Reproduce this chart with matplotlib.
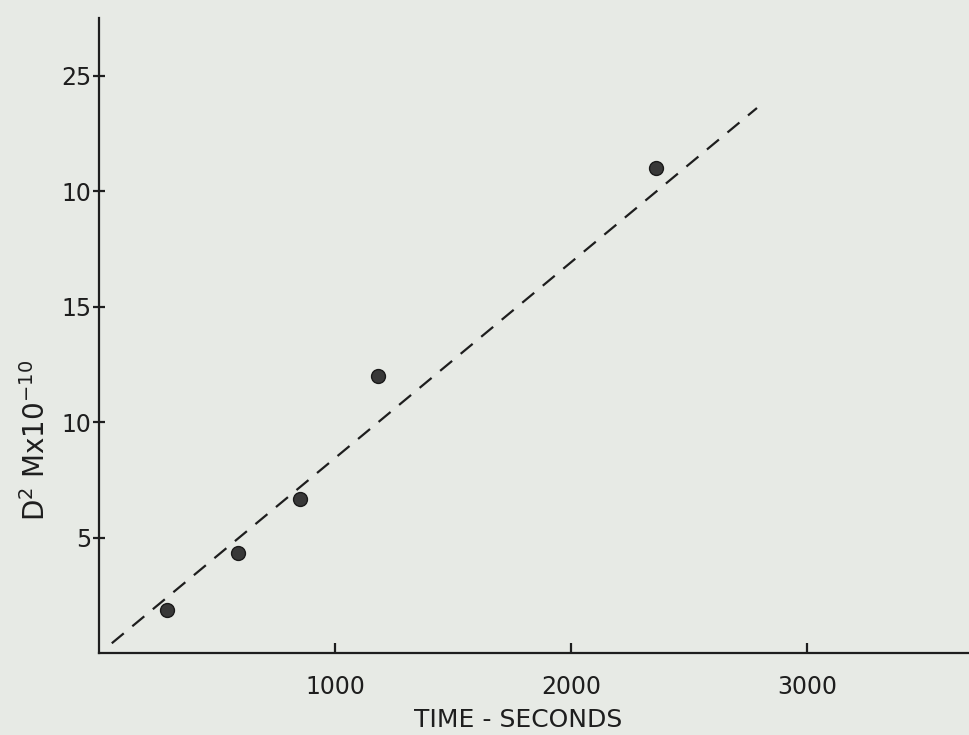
import numpy as np
import matplotlib.pyplot as plt

plt.rcParams['mathtext.default'] = 'regular'

time_s = [287, 588, 852, 1183, 2360]
d2m = [1.86, 4.34, 6.67, 11.99, 20.98]

# dashed fit line end points
fit_t = [54, 2787]
fit_v = [0.42, 23.6]

yticks = [5, 10, 15, 20, 25]
ytick_labels = ['5', '10', '15', '10', '25']   # as printed in the original
xticks = [1000, 2000, 3000]
xtick_labels = ['1000', '2000', '3000']

paper = '#e7eae5'
ink = '#1e1e1e'

fig = plt.figure(figsize=(9.69, 7.35), dpi=100, facecolor=paper)
ax = fig.add_axes([0.1022, 0.1116, 0.898, 0.864], facecolor=paper)

ax.plot(fit_t, fit_v, color=ink, lw=1.6, dashes=(7, 5))
ax.plot(time_s, d2m, 'o', color='#383838', mec='#1a1a1a', ms=10)

ax.set_xlim(0, 3686)
ax.set_ylim(0, 27.5)
ax.set_xticks(xticks)
ax.set_xticklabels(xtick_labels)
ax.set_yticks(yticks)
ax.set_yticklabels(ytick_labels)

for s in ['top', 'right']:
    ax.spines[s].set_visible(False)
for s in ['left', 'bottom']:
    ax.spines[s].set_color(ink)
    ax.spines[s].set_linewidth(1.6)

ax.tick_params(axis='y', direction='inout', length=9, width=1.6, colors=ink,
               labelsize=17, pad=1)
ax.tick_params(axis='x', direction='in', length=7, width=1.6, colors=ink,
               labelsize=17, pad=16)

ax.set_xlabel('TIME - SECONDS', fontsize=18, color=ink)
ax.xaxis.set_label_coords(0.482, -0.087)
ax.set_ylabel('D$^2$ Mx10$^{-10}$', fontsize=20, color=ink)
ax.yaxis.set_label_coords(-0.055, 0.335)

plt.savefig('out.png', dpi=100, facecolor=paper)
